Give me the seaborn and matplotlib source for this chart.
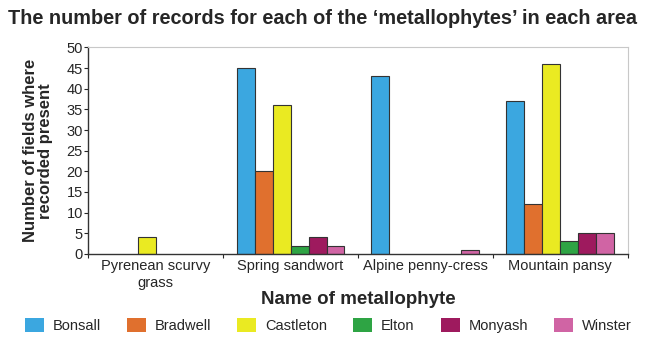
import matplotlib
matplotlib.use("Agg")
import matplotlib.pyplot as plt
import seaborn as sns
import pandas as pd
import numpy as np

plants = ["Pyrenean scurvy\ngrass", "Spring sandwort", "Alpine penny-cress", "Mountain pansy"]
areas = ["Bonsall", "Bradwell", "Castleton", "Elton", "Monyash", "Winster"]
bonsall = [0, 45, 43, 37]
bradwell = [0, 20, 0, 12]
castleton = [4, 36, 0, 46]
elton = [0, 2, 0, 3]
monyash = [0, 4, 0, 5]
winster = [0, 2, 1, 5]
colors = ["#3ba7e0", "#e0702e", "#eaea22", "#2ea444", "#9e1a5e", "#d064a4"]

series = [bonsall, bradwell, castleton, elton, monyash, winster]
rows = []
for area, vals in zip(areas, series):
    for plant, v in zip(plants, vals):
        rows.append({"plant": plant, "area": area, "records": v})
df = pd.DataFrame(rows)

sns.set_style("white")
plt.rcParams["font.family"] = ["Liberation Sans", "DejaVu Sans"]

fig = plt.figure(figsize=(6.45, 3.44), dpi=100)
ax = fig.add_axes([0.137, 0.262, 0.836, 0.600])

sns.barplot(data=df, x="plant", y="records", hue="area", order=plants,
            hue_order=areas, palette=colors, saturation=1, width=0.8,
            edgecolor="#333333", linewidth=0.8, ax=ax, legend=True)

# zero-height bars should not show an outline
for p in ax.patches:
    if p.get_height() == 0:
        p.set_linewidth(0)

ax.set_ylim(0, 50)
ax.set_xlim(-0.5, 3.5)
ax.set_yticks(range(0, 51, 5))
ax.tick_params(axis="y", labelsize=10.5, length=3, width=0.8, pad=1, direction="out", left=True)
ax.tick_params(axis="x", labelsize=10.5, length=0, pad=4)
ax.set_xticks(np.arange(-0.5, 3.6, 1.0), minor=True)
ax.tick_params(axis="x", which="minor", length=3, width=0.8, direction="out", bottom=True)

for side in ["top", "right"]:
    ax.spines[side].set_color("#c8c8c8")
    ax.spines[side].set_linewidth(0.8)
for side in ["left", "bottom"]:
    ax.spines[side].set_color("#333333")
    ax.spines[side].set_linewidth(1.0)

ax.set_xlabel("Name of metallophyte", fontsize=13.5, fontweight="bold", labelpad=1)
ax.set_ylabel("Number of fields where\nrecorded present", fontsize=12, fontweight="bold",
              labelpad=10, linespacing=1.0)

fig.suptitle("The number of records for each of the \u2018metallophytes\u2019 in each area",
             x=0.5, y=0.975, fontsize=14.3, fontweight="bold")

handles, labels = ax.get_legend_handles_labels()
ax.legend_.remove()
fig.legend(handles, labels, loc="lower center", bbox_to_anchor=(0.509, -0.005), ncol=6,
           frameon=False, fontsize=10.5, handlelength=1.3, handleheight=1.1,
           handletextpad=0.6, columnspacing=1.8)

fig.savefig("out.png", dpi=100)
